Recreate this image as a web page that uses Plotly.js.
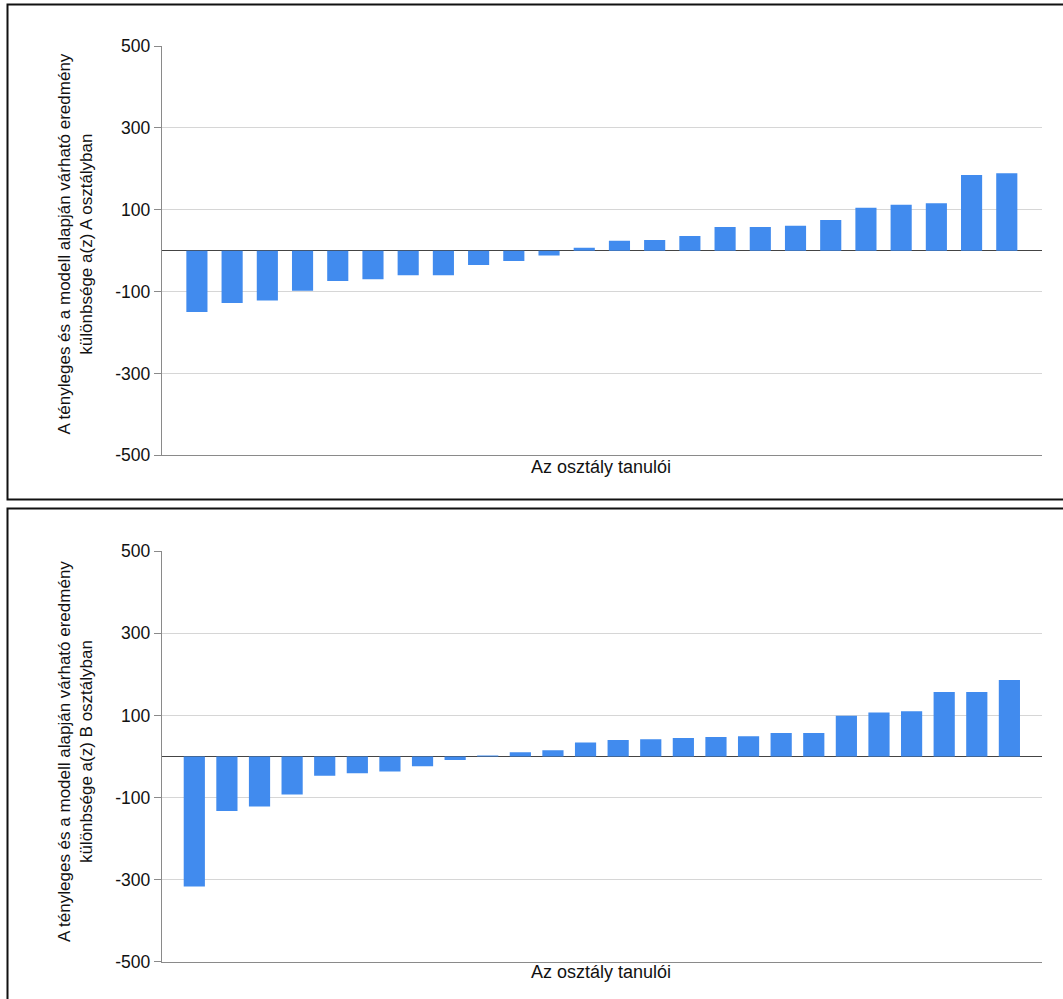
<!DOCTYPE html>
<html>
<head>
<meta charset="utf-8">
<script src="https://cdn.plot.ly/plotly-3.0.1.min.js"></script>
<style>
html,body{margin:0;padding:0;background:#fff;}
#chart{width:1063px;height:999px;}
</style>
</head>
<body>
<div id="chart"></div>
<script>
// ---- data ----
const topStudents = ['1','2','3','4','5','6','7','8','9','10','11','12','13','14','15','16','17','18','19','20','21','22','23','24'];
const topValues = [-150,-128,-122,-98,-74,-70,-60,-60,-35,-25,-12,7,24,26,36,58,58,61,75,105,112,116,185,189];
const bottomStudents = ['1','2','3','4','5','6','7','8','9','10','11','12','13','14','15','16','17','18','19','20','21','22','23','24','25','26'];
const bottomValues = [-317,-133,-122,-93,-47,-41,-37,-24,-9,2,10,15,34,40,42,45,47,49,57,57,99,107,110,157,157,186];
const yTicks = [-500,-300,-100,100,300,500];
const yTickText = ['-500','-300','-100','100','300','500'];
const xTitle = 'Az osztály tanulói';
const yTitleTop = 'A tényleges és a modell alapján várható eredmény<br>különbsége a(z) A osztályban';
const yTitleBottom = 'A tényleges és a modell alapján várható eredmény<br>különbsége a(z) B osztályban';

const W = 1063, H = 999;
const px = v => v / W;
const py = v => 1 - v / H;
const FONT = 'Liberation Sans, Arial, sans-serif';
const BLUE = '#418bee';

const traces = [
  {type:'bar', x: topStudents, y: topValues, xaxis:'x', yaxis:'y', width:0.6,
   marker:{color:BLUE, line:{width:0}}, hoverinfo:'y'},
  {type:'bar', x: bottomStudents, y: bottomValues, xaxis:'x2', yaxis:'y2', width:0.65,
   marker:{color:BLUE, line:{width:0}}, hoverinfo:'y'}
];

const yax = (dom) => ({
  domain: dom, range:[-500,500], tickvals: yTicks, ticktext: yTickText,
  showgrid:true, gridcolor:'#d6d6d6', gridwidth:1,
  zeroline:true, zerolinecolor:'#444', zerolinewidth:1,
  showline:true, linecolor:'#8a8a8a', linewidth:1,
  ticks:'outside', ticklen:7, tickcolor:'#8a8a8a', tickwidth:1,
  ticklabelstandoff:0,
  tickfont:{family:FONT, size:17.5, color:'#111'}, fixedrange:true
});
const xax = (dom, range, anchor) => ({
  domain: dom, range: range, type:'category', anchor: anchor,
  showgrid:false, zeroline:false, showticklabels:false, ticks:'',
  showline:true, linecolor:'#8a8a8a', linewidth:1, fixedrange:true
});

const layout = {
  width:W, height:H, margin:{l:0,r:0,t:0,b:0},
  paper_bgcolor:'#fff', plot_bgcolor:'#fff', showlegend:false,
  font:{family:FONT, color:'#111'},
  xaxis: xax([px(161.7), px(1042)], [-1, 24], 'y'),
  yaxis: yax([py(455.3), py(46)]),
  xaxis2: xax([px(161.7), px(1042)], [-1, 26], 'y2'),
  yaxis2: yax([py(961.5), py(551.3)]),
  annotations: [
    {text:xTitle, xref:'paper', yref:'paper', x:px(600.5), y:py(467), showarrow:false,
     xanchor:'center', yanchor:'middle', font:{family:FONT, size:18, color:'#111'}},
    {text:xTitle, xref:'paper', yref:'paper', x:px(600.5), y:py(972), showarrow:false,
     xanchor:'center', yanchor:'middle', font:{family:FONT, size:18, color:'#111'}},
    {text:yTitleTop, xref:'paper', yref:'paper', x:px(75), y:py(244.5), showarrow:false,
     textangle:-90, xanchor:'center', yanchor:'middle', align:'center',
     font:{family:FONT, size:17, color:'#111'}},
    {text:yTitleBottom, xref:'paper', yref:'paper', x:px(75), y:py(752), showarrow:false,
     textangle:-90, xanchor:'center', yanchor:'middle', align:'center',
     font:{family:FONT, size:17, color:'#111'}}
  ],
  shapes: [
    {type:'rect', xref:'paper', yref:'paper', x0:px(7.5), x1:1.05, y0:py(499.5), y1:py(4.5),
     line:{color:'#111', width:2}, fillcolor:'rgba(0,0,0,0)', layer:'above'},
    {type:'rect', xref:'paper', yref:'paper', x0:px(7.5), x1:1.05, y0:-0.05, y1:py(508.5),
     line:{color:'#111', width:2}, fillcolor:'rgba(0,0,0,0)', layer:'above'}
  ]
};

Plotly.newPlot('chart', traces, layout, {staticPlot:true, displayModeBar:false});
</script>
</body>
</html>
